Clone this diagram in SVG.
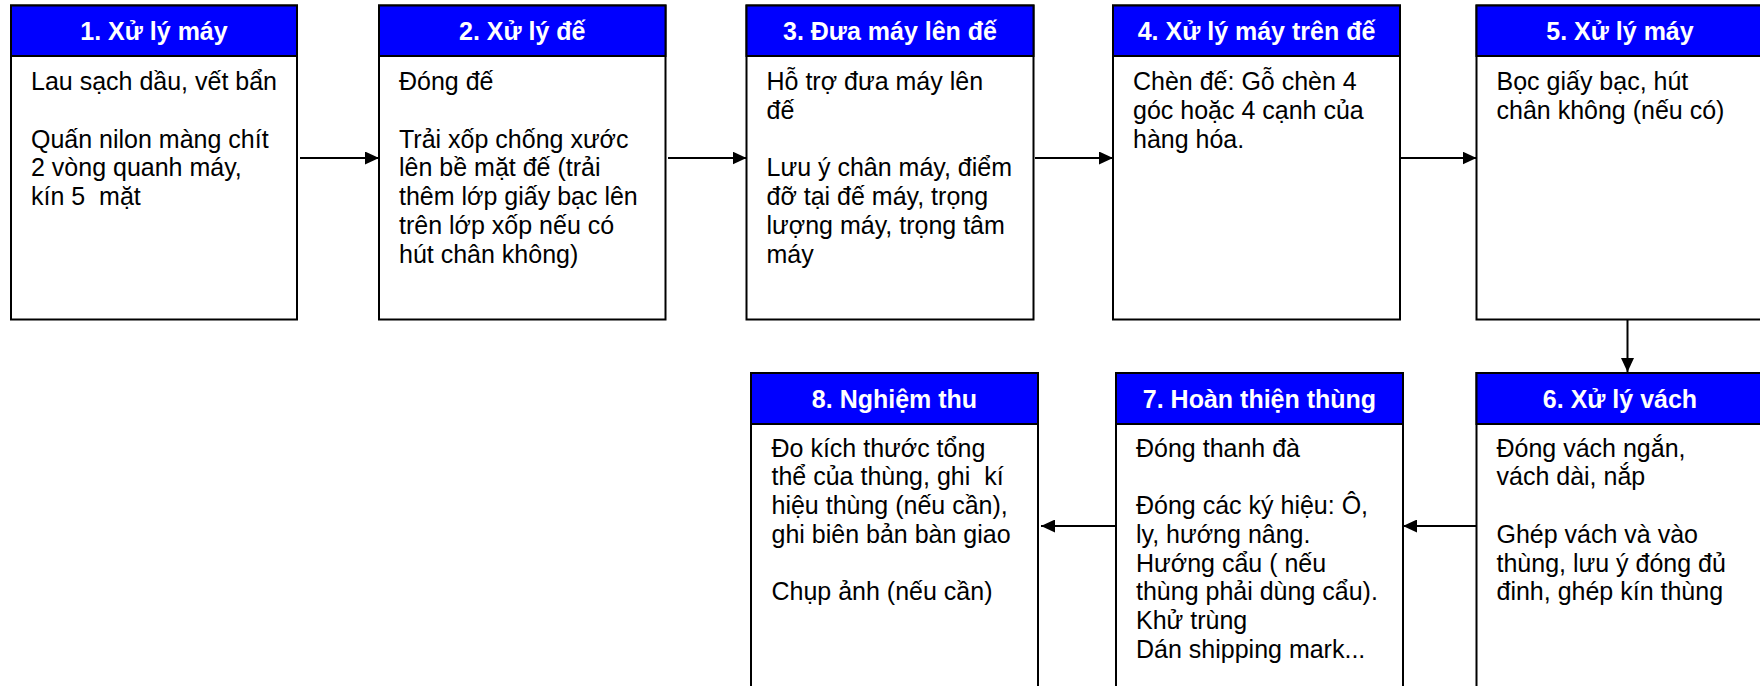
<svg xmlns="http://www.w3.org/2000/svg" width="1760" height="686" viewBox="0 0 1760 686">
<style>
.box{fill:#fff;stroke:#000;stroke-width:2}
.hdr{fill:#0000ff;stroke:#000;stroke-width:2}
.ttl{font-family:"Liberation Sans",Arial,sans-serif;font-size:25px;font-weight:bold;fill:#fff;text-anchor:middle}
.bd{font-family:"Liberation Sans",Arial,sans-serif;font-size:25px;fill:#000;white-space:pre}
.cn{stroke:#000;stroke-width:2;fill:none;marker-end:url(#ah)}
</style>
<defs>
<marker id="ah" viewBox="0 0 14 13" refX="14" refY="6.5" markerWidth="14" markerHeight="13" markerUnits="userSpaceOnUse" orient="auto">
<path d="M0,0 L14,6.5 L0,13 z" fill="#000"/>
</marker>
</defs>
<rect width="1760" height="686" fill="#fff"/>

<g id="connectors">
<line class="cn" x1="300" y1="158" x2="379" y2="158"/>
<line class="cn" x1="668" y1="158" x2="746.5" y2="158"/>
<line class="cn" x1="1035" y1="158" x2="1113" y2="158"/>
<line class="cn" x1="1401" y1="158" x2="1476.5" y2="158"/>
<line class="cn" x1="1627.5" y1="320" x2="1627.5" y2="372"/>
<line class="cn" x1="1476.5" y1="526" x2="1403" y2="526"/>
<line class="cn" x1="1116" y1="526" x2="1041" y2="526"/>
</g>

<g id="n1">
<rect class="box" x="11" y="5.5" width="286" height="314"/>
<rect class="hdr" x="11" y="5.5" width="286" height="50.5"/>
<text class="ttl" x="154" y="39.75">1. Xử lý máy</text>
<text class="bd"><tspan x="31" y="90">Lau sạch dầu, vết bẩn</tspan><tspan x="31" y="147.5">Quấn nilon màng chít</tspan><tspan x="31" y="176.25">2 vòng quanh máy,</tspan><tspan x="31" y="205">kín 5  mặt</tspan></text>
</g>

<g id="n2">
<rect class="box" x="379" y="5.5" width="286.5" height="314"/>
<rect class="hdr" x="379" y="5.5" width="286.5" height="50.5"/>
<text class="ttl" x="522.25" y="39.75">2. Xử lý đế</text>
<text class="bd"><tspan x="399" y="90">Đóng đế</tspan><tspan x="399" y="147.5">Trải xốp chống xước</tspan><tspan x="399" y="176.25">lên bề mặt đế (trải</tspan><tspan x="399" y="205">thêm lớp giấy bạc lên</tspan><tspan x="399" y="233.75">trên lớp xốp nếu có</tspan><tspan x="399" y="262.5">hút chân không)</tspan></text>
</g>

<g id="n3">
<rect class="box" x="746.5" y="5.5" width="287" height="314"/>
<rect class="hdr" x="746.5" y="5.5" width="287" height="50.5"/>
<text class="ttl" x="890" y="39.75">3. Đưa máy lên đế</text>
<text class="bd"><tspan x="766.5" y="90">Hỗ trợ đưa máy lên</tspan><tspan x="766.5" y="118.75">đế</tspan><tspan x="766.5" y="176.25">Lưu ý chân máy, điểm</tspan><tspan x="766.5" y="205">đỡ tại đế máy, trọng</tspan><tspan x="766.5" y="233.75">lượng máy, trọng tâm</tspan><tspan x="766.5" y="262.5">máy</tspan></text>
</g>

<g id="n4">
<rect class="box" x="1113" y="5.5" width="287" height="314"/>
<rect class="hdr" x="1113" y="5.5" width="287" height="50.5"/>
<text class="ttl" x="1256.5" y="39.75">4. Xử lý máy trên đế</text>
<text class="bd"><tspan x="1133" y="90">Chèn đế: Gỗ chèn 4</tspan><tspan x="1133" y="118.75">góc hoặc 4 cạnh của</tspan><tspan x="1133" y="147.5">hàng hóa.</tspan></text>
</g>

<g id="n5">
<rect class="box" x="1476.5" y="5.5" width="287" height="314"/>
<rect class="hdr" x="1476.5" y="5.5" width="287" height="50.5"/>
<text class="ttl" x="1620" y="39.75">5. Xử lý máy</text>
<text class="bd"><tspan x="1496.5" y="90">Bọc giấy bạc, hút</tspan><tspan x="1496.5" y="118.75">chân không (nếu có)</tspan></text>
</g>

<g id="n6">
<rect class="box" x="1476.5" y="373" width="287" height="320"/>
<rect class="hdr" x="1476.5" y="373" width="287" height="51"/>
<text class="ttl" x="1620" y="407.5">6. Xử lý vách</text>
<text class="bd"><tspan x="1496.5" y="456.5">Đóng vách ngắn,</tspan><tspan x="1496.5" y="485.25">vách dài, nắp</tspan><tspan x="1496.5" y="542.75">Ghép vách và vào</tspan><tspan x="1496.5" y="571.5">thùng, lưu ý đóng đủ</tspan><tspan x="1496.5" y="600.25">đinh, ghép kín thùng</tspan></text>
</g>

<g id="n7">
<rect class="box" x="1116" y="373" width="287" height="320"/>
<rect class="hdr" x="1116" y="373" width="287" height="51"/>
<text class="ttl" x="1259.5" y="407.5">7. Hoàn thiện thùng</text>
<text class="bd"><tspan x="1136" y="456.5">Đóng thanh đà</tspan><tspan x="1136" y="514">Đóng các ký hiệu: Ô,</tspan><tspan x="1136" y="542.75">ly, hướng nâng.</tspan><tspan x="1136" y="571.5">Hướng cẩu ( nếu</tspan><tspan x="1136" y="600.25">thùng phải dùng cẩu).</tspan><tspan x="1136" y="629">Khử trùng</tspan><tspan x="1136" y="657.75">Dán shipping mark...</tspan></text>
</g>

<g id="n8">
<rect class="box" x="751" y="373" width="287" height="320"/>
<rect class="hdr" x="751" y="373" width="287" height="51"/>
<text class="ttl" x="894.5" y="407.5">8. Nghiệm thu</text>
<text class="bd"><tspan x="771.5" y="456.5">Đo kích thước tổng</tspan><tspan x="771.5" y="485.25">thể của thùng, ghi  kí</tspan><tspan x="771.5" y="514">hiệu thùng (nếu cần),</tspan><tspan x="771.5" y="542.75">ghi biên bản bàn giao</tspan><tspan x="771.5" y="600.25">Chụp ảnh (nếu cần)</tspan></text>
</g>
</svg>
